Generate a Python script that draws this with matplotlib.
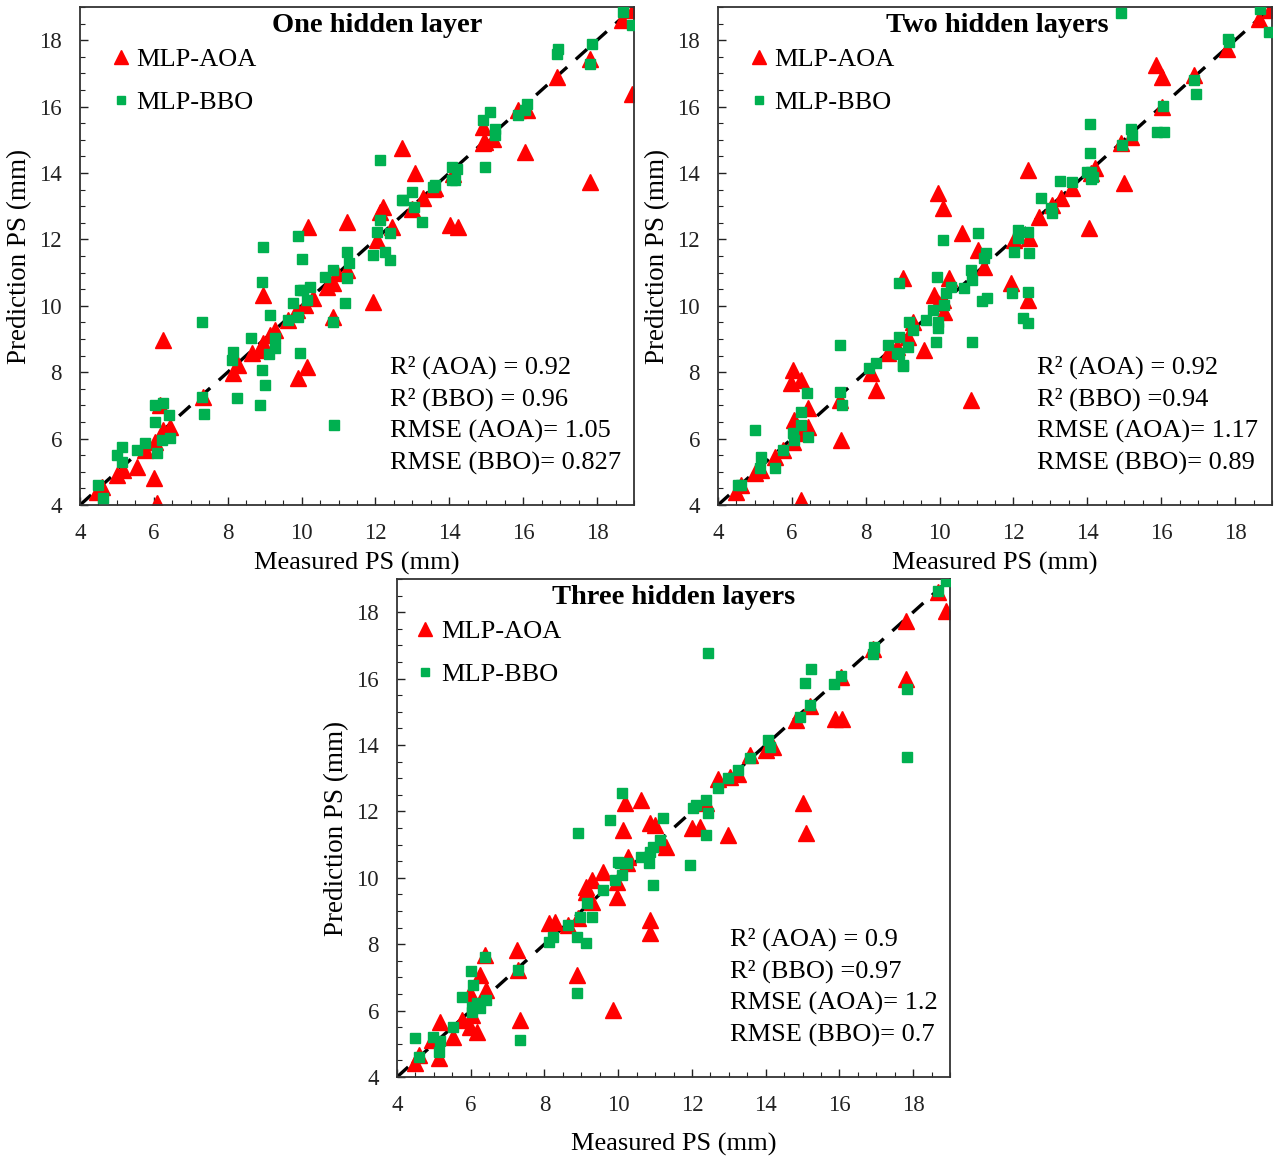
import matplotlib
matplotlib.use("Agg")
import matplotlib.pyplot as plt
from matplotlib.ticker import MultipleLocator

plt.rcParams['font.family'] = ['Liberation Serif', 'DejaVu Serif']

# one hidden layer
one_aoa_x = [4.45, 4.59, 4.99, 5.17, 5.53, 6.00, 6.08, 5.76, 6.03, 6.26, 6.44, 6.17, 6.26, 7.34,
             8.15, 8.29, 8.65, 8.87, 8.96, 9.14, 9.28, 8.96, 9.91, 10.14, 9.64, 9.87, 10.31, 10.68,
             10.85, 10.85, 10.09, 12.71, 13.07, 13.30, 12.21, 12.12, 12.44, 12.03, 13.61, 14.02,
             14.24, 11.22, 10.18, 11.94, 14.92, 10.95, 11.22, 18.67, 18.97, 18.94, 17.81, 17.81,
             16.91, 16.05, 15.87, 16.09, 14.92, 14.97, 15.19, 14.11, 13.57, 12.98]
one_aoa_y = [4.40, 4.55, 4.90, 5.05, 5.15, 4.81, 4.06, 5.66, 5.91, 6.26, 6.36, 7.01, 8.97, 7.26,
             7.97, 8.22, 8.57, 8.67, 8.87, 9.12, 9.27, 10.33, 7.82, 8.17, 9.57, 9.87, 10.23, 10.58,
             10.69, 9.67, 10.02, 14.74, 13.99, 13.24, 12.98, 12.83, 12.38, 11.98, 13.54, 12.43,
             12.38, 12.53, 12.38, 10.12, 14.89, 10.98, 11.08, 18.60, 18.90, 16.39, 17.44, 13.73,
             16.88, 14.64, 15.89, 15.89, 15.39, 14.93, 15.03, 13.98, 13.53, 12.92]
one_bbo_x = [4.50, 4.63, 4.99, 5.15, 5.13, 5.53, 5.76, 6.08, 6.21, 6.44, 6.03, 6.42, 6.03, 6.26,
             7.29, 7.29, 7.36, 8.11, 8.15, 8.26, 8.62, 8.92, 8.92, 9.01, 8.87, 9.14, 9.28, 9.28,
             9.13, 8.96, 10.00, 9.64, 9.96, 9.78, 9.91, 9.96, 10.14, 10.23, 10.63, 10.86, 10.86,
             10.88, 12.12, 14.97, 14.06, 14.15, 13.61, 12.98, 12.71, 13.03, 13.25, 12.12, 12.03,
             12.39, 11.94, 12.26, 12.39, 9.91, 11.22, 11.27, 11.22, 10.05, 11.18, 18.69, 18.94,
             17.85, 17.81, 16.95, 16.91, 16.09, 16.05, 15.87, 15.10, 14.92, 15.24, 15.24, 14.20,
             14.06, 13.57, 12.75]
one_bbo_y = [4.60, 4.20, 5.51, 5.76, 5.30, 5.66, 5.88, 5.56, 5.96, 6.01, 6.51, 6.71, 7.01, 7.06,
             9.52, 7.26, 6.74, 8.37, 8.62, 7.21, 9.02, 10.71, 8.07, 7.61, 7.01, 9.72, 9.02, 8.72,
             8.54, 11.77, 11.40, 9.57, 8.57, 10.07, 9.67, 10.48, 10.17, 10.58, 10.88, 11.08, 9.52,
             6.41, 14.39, 14.19, 14.19, 13.79, 13.64, 13.44, 13.19, 12.98, 12.53, 12.58, 12.23,
             12.18, 11.53, 11.63, 11.38, 12.10, 11.63, 11.28, 10.83, 10.48, 10.07, 18.85, 18.45,
             17.90, 17.29, 17.74, 17.59, 16.09, 15.89, 15.74, 15.84, 15.59, 15.33, 15.13, 14.13,
             13.78, 13.58, 13.18]

# two hidden layers
two_aoa_x = [4.50, 4.63, 4.99, 5.17, 5.53, 5.76, 6.03, 6.25, 6.03, 5.98, 6.25, 6.07, 6.43, 6.43,
             6.21, 7.33, 7.29, 8.28, 8.14, 8.59, 8.86, 9.00, 9.14, 9.27, 9.59, 9.86, 9.95, 10.26,
             10.13, 10.85, 9.95, 10.08, 10.62, 11.03, 11.21, 10.08, 12.38, 11.93, 12.38, 12.02,
             12.42, 12.69, 13.05, 13.28, 13.59, 14.05, 14.09, 14.22, 14.99, 14.90, 18.64, 18.95,
             17.78, 15.85, 16.03, 16.88, 16.03, 15.17]
two_aoa_y = [4.40, 4.60, 4.95, 5.05, 5.45, 5.66, 5.91, 4.15, 8.07, 7.67, 7.77, 6.56, 6.91, 6.36,
             6.16, 5.96, 7.16, 7.46, 7.97, 8.57, 8.77, 10.83, 9.07, 9.52, 8.67, 10.33, 10.07, 10.83,
             9.82, 7.16, 13.39, 12.94, 12.18, 11.68, 11.18, 10.17, 10.17, 10.68, 14.09, 11.98,
             12.03, 12.68, 13.04, 13.24, 13.54, 12.33, 13.99, 14.14, 13.69, 14.89, 18.65, 18.90,
             17.74, 17.24, 16.89, 16.94, 15.99, 15.08]
two_bbo_x = [4.54, 4.63, 4.99, 5.13, 5.17, 5.55, 5.76, 6.03, 6.07, 6.25, 6.25, 6.43, 6.41, 7.29,
             7.29, 7.36, 8.10, 8.28, 8.61, 8.91, 8.91, 8.91, 9.02, 9.14, 9.18, 9.27, 9.63, 9.93,
             9.90, 9.95, 9.96, 9.81, 10.13, 10.17, 10.31, 10.67, 10.85, 10.89, 14.07, 14.09, 14.14,
             14.95, 13.59, 13.26, 12.74, 13.01, 13.05, 12.11, 12.38, 12.11, 12.02, 12.42, 11.05,
             10.10, 11.25, 11.21, 10.89, 8.86, 9.00, 11.16, 11.28, 11.95, 12.40, 12.27, 12.40,
             14.90, 18.67, 18.91, 17.80, 17.83, 16.88, 16.93, 16.05, 15.89, 16.07, 15.17, 15.22,
             14.06, 14.00, 14.09]
two_bbo_y = [4.60, 4.60, 6.26, 5.10, 5.45, 5.10, 5.66, 6.16, 5.96, 6.81, 6.41, 6.06, 7.36, 8.82,
             7.41, 7.01, 8.12, 8.27, 8.82, 9.07, 10.68, 8.55, 8.19, 8.77, 9.52, 9.27, 9.57, 10.88,
             8.92, 9.52, 9.32, 9.87, 10.02, 10.38, 10.58, 10.53, 11.08, 8.92, 14.59, 14.04, 13.89,
             14.84, 13.74, 13.77, 13.24, 12.94, 12.79, 12.28, 12.23, 12.03, 11.63, 11.60, 12.18,
             11.98, 11.58, 11.43, 10.78, 8.57, 8.22, 10.15, 10.23, 10.38, 10.41, 9.62, 9.47,
             18.82, 18.95, 18.25, 18.05, 17.95, 16.79, 16.37, 16.01, 15.24, 15.24, 15.33, 15.14,
             15.48, 14.03, 13.83]

# three hidden layers
three_aoa_x = [4.50, 4.59, 4.95, 5.13, 5.16, 5.53, 5.76, 5.99, 6.17, 6.03, 5.99, 6.24, 6.42, 6.39,
               7.25, 7.29, 7.34, 8.87, 8.11, 8.29, 8.65, 8.92, 9.14, 9.28, 9.28, 9.60, 9.87, 9.96,
               10.14, 9.96, 10.23, 10.86, 10.86, 10.86, 10.18, 10.63, 11.00, 11.18, 11.31, 12.00,
               12.22, 12.98, 10.27, 9.14, 12.39, 12.71, 13.02, 13.25, 13.57, 14.02, 14.20, 14.83,
               15.01, 15.10, 18.67, 18.89, 17.81, 17.81, 16.91, 15.87, 16.08, 16.05, 15.19]
three_aoa_y = [4.41, 4.66, 5.11, 4.56, 5.67, 5.21, 5.72, 5.52, 5.36, 5.87, 6.52, 7.07, 6.62, 7.67,
               7.83, 7.22, 5.72, 7.07, 8.63, 8.68, 8.58, 8.78, 9.73, 9.93, 9.28, 10.18, 6.02, 9.43,
               11.44, 9.88, 10.44, 8.73, 8.33, 11.64, 12.24, 12.34, 11.59, 11.04, 10.94, 11.49,
               11.54, 11.29, 10.64, 9.58, 12.24, 12.99, 13.04, 13.14, 13.70, 13.85, 13.95, 14.75,
               12.24, 11.34, 18.60, 18.05, 17.74, 15.99, 16.89, 14.78, 14.78, 16.04, 15.18]
three_bbo_x = [4.50, 4.61, 4.99, 5.13, 5.16, 5.53, 5.76, 6.00, 6.06, 6.03, 6.03, 6.26, 6.17, 6.42,
               6.39, 7.29, 7.34, 8.11, 8.24, 8.65, 8.87, 9.14, 8.87, 8.92, 8.96, 9.16, 9.28, 9.60,
               9.78, 9.91, 10.00, 10.23, 10.63, 10.84, 10.95, 10.95, 10.09, 11.22, 11.13, 10.86,
               10.05, 10.09, 11.96, 12.03, 12.12, 12.39, 12.44, 12.38, 12.71, 12.98, 13.25, 13.57,
               14.07, 14.11, 14.92, 12.44, 18.89, 18.67, 17.83, 17.83, 16.95, 16.91, 16.05, 15.85,
               15.22, 15.08, 15.21]
three_bbo_y = [5.17, 4.59, 5.21, 4.76, 5.09, 5.52, 6.42, 7.20, 6.77, 6.12, 5.97, 6.07, 6.22, 6.32,
               7.62, 7.22, 5.11, 8.08, 8.23, 8.58, 8.23, 8.03, 6.52, 11.34, 8.83, 9.23, 8.83, 9.63,
               11.74, 9.93, 10.49, 10.44, 10.64, 10.44, 10.94, 9.78, 12.55, 11.79, 11.14, 10.79,
               10.44, 10.08, 10.39, 12.09, 12.19, 12.34, 11.94, 11.29, 12.70, 13.00, 13.25, 13.60,
               14.15, 13.95, 14.85, 16.77, 18.95, 18.65, 15.69, 13.63, 16.94, 16.74, 16.09, 15.84,
               16.29, 15.86, 15.20]

titles = ['One hidden layer', 'Two hidden layers', 'Three hidden layers']
stats = [
    ['R² (AOA) = 0.92', 'R² (BBO) = 0.96', 'RMSE (AOA)= 1.05', 'RMSE (BBO)= 0.827'],
    ['R² (AOA) = 0.92', 'R² (BBO) =0.94', 'RMSE (AOA)= 1.17', 'RMSE (BBO)= 0.89'],
    ['R² (AOA) = 0.9', 'R² (BBO) =0.97', 'RMSE (AOA)= 1.2', 'RMSE (BBO)= 0.7'],
]
lim = (4, 19)

W, H = 1276, 1157
fig = plt.figure(figsize=(W / 100, H / 100), dpi=100)

# axes boxes in pixels: left, top, right, bottom
boxes = [(80, 7, 634, 505), (718, 7, 1272, 505), (397, 579, 950, 1077)]
stat_x = [0.56, 0.576, 0.602]
title_x = [0.536, 0.504, 0.50]
legend_x = [0.04, 0.04, 0.018]
xlabel_pad = [6, 6, 12]

RED = '#ff0000'
GREEN = '#00b050'

panels = [
    (one_aoa_x, one_aoa_y, one_bbo_x, one_bbo_y),
    (two_aoa_x, two_aoa_y, two_bbo_x, two_bbo_y),
    (three_aoa_x, three_aoa_y, three_bbo_x, three_bbo_y),
]

for i, (ax_, ay_, bx_, by_) in enumerate(panels):
    l, t, r, b = boxes[i]
    ax = fig.add_axes([l / W, 1 - b / H, (r - l) / W, (b - t) / H])

    # 1:1 reference line
    ax.plot(lim, lim, color='black', lw=2.4, ls=(0, (4.5, 3.5)), zorder=1)
    ax.plot(ax_, ay_, ls='none', marker='^', ms=11, color=RED, mec=RED, label='MLP-AOA', zorder=2)
    ax.plot(bx_, by_, ls='none', marker='s', ms=7, color=GREEN, mec=GREEN, label='MLP-BBO', zorder=3)

    ax.set_xlim(lim)
    ax.set_ylim(lim)
    ax.xaxis.set_major_locator(MultipleLocator(2))
    ax.yaxis.set_major_locator(MultipleLocator(2))
    ax.xaxis.set_minor_locator(MultipleLocator(0.5))
    ax.yaxis.set_minor_locator(MultipleLocator(0.5))
    ax.tick_params(which='both', direction='in', labelsize=16.5, colors='#222222')
    ax.tick_params(which='major', length=6, width=1)
    ax.tick_params(which='minor', length=3.5, width=0.8)
    ax.tick_params(axis='x', pad=13)
    ax.tick_params(axis='y', pad=13)
    for s in ax.spines.values():
        s.set_linewidth(1.3)
        s.set_color('#333333')

    ax.set_xlabel('Measured PS (mm)', fontsize=19, labelpad=xlabel_pad[i])
    ax.set_ylabel('Prediction PS (mm)', fontsize=19.5, labelpad=5)

    ax.text(title_x[i], 0.962, titles[i], transform=ax.transAxes, ha='center', va='center',
            fontsize=20.5, fontweight='bold')

    for k, line in enumerate(stats[i]):
        ax.text(stat_x[i], 0.277 - k * 0.0645, line, transform=ax.transAxes,
                ha='left', va='center', fontsize=19)

    ax.legend(loc='upper left', bbox_to_anchor=(legend_x[i], 0.94), frameon=False, fontsize=19,
              handlelength=0.6, handletextpad=0.3, labelspacing=0.75, borderaxespad=0,
              markerscale=0.9)

fig.savefig('out.png', dpi=100)
